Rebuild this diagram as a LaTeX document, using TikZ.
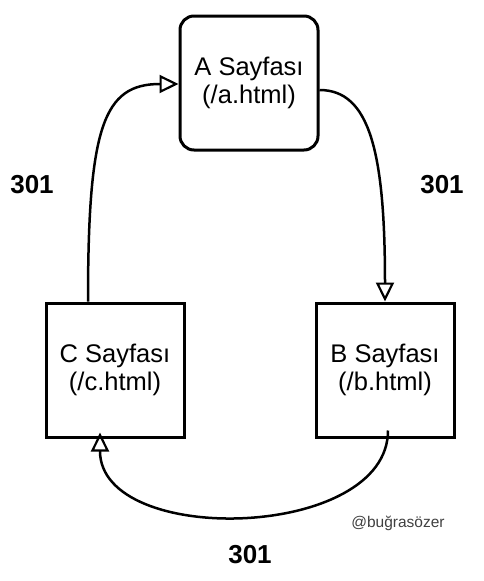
\documentclass[tikz,border=0pt]{standalone}
\usepackage{fontspec}
\setmainfont{Liberation Sans}
\usetikzlibrary{arrows.meta}

\begin{document}
\begin{tikzpicture}[x=1pt,y=-1pt,node distance=270pt,
	page/.style={draw,line width=3pt,minimum width=138pt,minimum height=134pt,
		inner sep=0pt,align=center,font=\fontsize{25.5}{28}\selectfont},
	link/.style={line width=2.5pt,-{Triangle[open,length=19pt,width=18pt,line width=2.2pt]}},
	code/.style={font=\fontsize{26}{28}\selectfont\bfseries}]

\useasboundingbox (0,0) rectangle (484,581);

\node[page,rounded corners=14pt](A) at (249,83){A Sayfası\\(/a.html)};
\node[page](C) at (115,370){C Sayfası\\(/c.html)};
\node[page](B)[right of=C]{B Sayfası\\(/b.html)};

\draw[link]([yshift=-7pt]A.east) .. controls +(50,0) and +(0,-150) .. (B.north);
\draw[link]([xshift=3pt,yshift=8pt]B.south) .. controls +(0,110) and +(0,115) .. ([xshift=-15pt,yshift=6pt]C.south);
\draw[link]([xshift=-27pt]C.north) .. controls +(0,-175) and +(-75,0) .. ([yshift=-1pt]A.west);

\node[code](l1) at (32,185){301};
\node[code](l2) at (442,185){301};
\node[code](l3) at (250,555){301};
\node[font=\fontsize{15.5}{17}\selectfont,text=black!75](sig) at (398,523){@buğrasözer};

\end{tikzpicture}
\end{document}
